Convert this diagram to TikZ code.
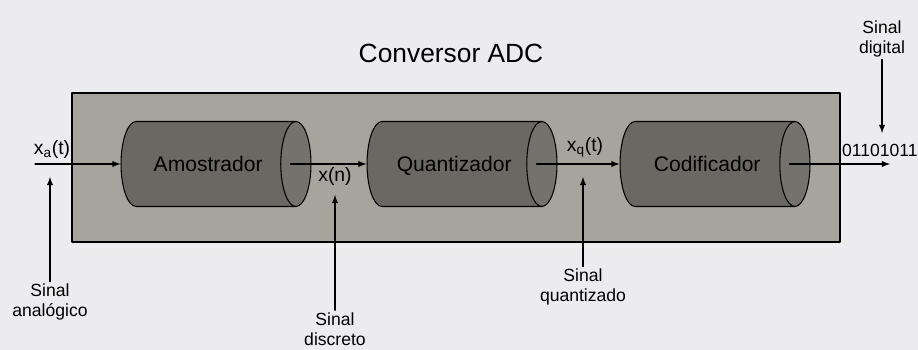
\documentclass[tikz,border=0pt]{standalone}
\usepackage{fontspec}
\setmainfont{Liberation Sans}
\usepackage{xcolor}
\usetikzlibrary{arrows,shapes.geometric}
\definecolor{pagebg}{RGB}{236,236,239}
\definecolor{boxgray}{RGB}{166,164,157}
\definecolor{cylgray}{RGB}{106,104,98}
\definecolor{facegray}{RGB}{116,114,108}
\tikzset{
	etapa/.style={cylinder, draw=black, line width=0.6pt, shape aspect=2,
		cylinder uses custom fill, cylinder body fill=cylgray, cylinder end fill=facegray,
		minimum height=3.8cm, minimum width=1.7cm, inner sep=0pt,
		text height=8.6pt, text depth=0pt,
		font=\fontsize{12}{14}\selectfont, anchor=shape center},
	rotulo/.style={font=\fontsize{10}{11.5}\selectfont, align=center, inner sep=1pt},
	seta/.style={-latex, line width=0.6pt},
}

\begin{document}
\begin{tikzpicture}[line cap=round,line join=round,x=0.02cm,y=0.02cm]
			\useasboundingbox[fill=pagebg] (0,0) rectangle (918,350);
			\draw[line width=0.6pt, fill=boxgray] (72,108) rectangle (840,257);
			\node[font=\fontsize{15}{18}\selectfont] (titulo) at (451,297) {Conversor ADC};
			% blocos
			\node[etapa] (amost) at (216,186) {Amostrador};
			\node[etapa] (quant) at (462,186) {Quantizador};
			\node[etapa] (codif) at (715,186) {Codificador};
			\coordinate (amostface) at ([xshift=-0.42cm]amost.top);
			\coordinate (quantface) at ([xshift=-0.42cm]quant.top);
			\coordinate (codifface) at ([xshift=-0.42cm]codif.top);
			% sinais
			\coordinate (entrada) at (35,186);
			\coordinate (saida) at (890,186);
			\draw[seta] (entrada) -- (amost.bottom);
			\draw[seta] (amostface) -- (quant.bottom);
			\draw[seta] (quantface) -- (codif.bottom);
			\draw[seta] (codifface) -- (saida);
			\begin{scriptsize}
				\node[rotulo, font=\fontsize{11}{13}\selectfont] (xa) at (52,200) {x\textsubscript{a}(t)};
				\node[rotulo, font=\fontsize{11}{13}\selectfont] (xn) at (335,173) {x(n)};
				\node[rotulo, font=\fontsize{11}{13}\selectfont] (xq) at (585,203) {x\textsubscript{q}(t)};
				\node[rotulo, anchor=west] (bits) at (840,200) {01101011};
				\node[rotulo] (analog) at (50,48) {Sinal\\anal\'ogico};
				\node[rotulo] (discr) at (335,21) {Sinal\\discreto};
				\node[rotulo] (quantz) at (583,63) {Sinal\\quantizado};
				\node[rotulo] (digit) at (882,311) {Sinal\\digital};
				\coordinate (panalog) at (50,173);
				\coordinate (pdiscr) at (335,155);
				\coordinate (pquantz) at (583,173);
				\coordinate (pdigit) at (882,217);
				\draw[seta] (analog) -- (panalog);
				\draw[seta] (discr) -- (pdiscr);
				\draw[seta] (quantz) -- (pquantz);
				\draw[seta] (digit) -- (pdigit);
			\end{scriptsize}
		\end{tikzpicture}
\end{document}
